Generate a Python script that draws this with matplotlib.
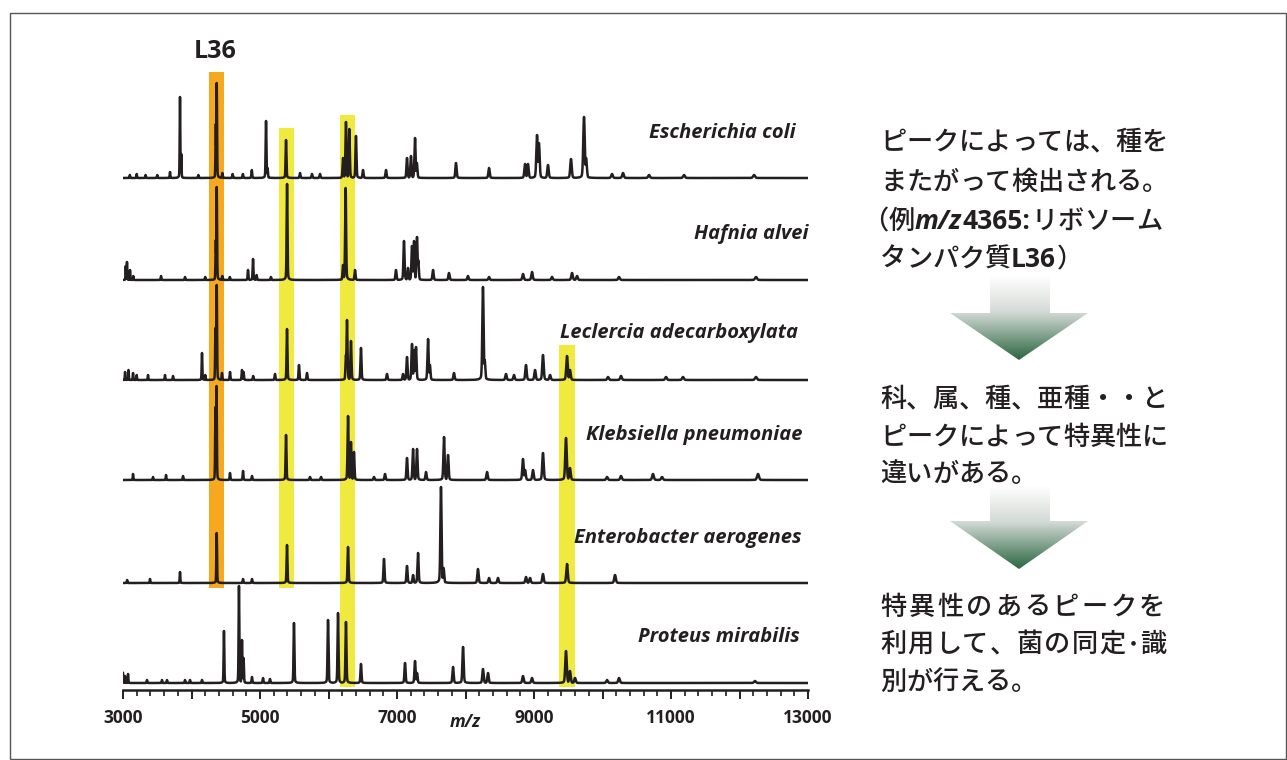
import numpy as np
import matplotlib
matplotlib.use('Agg')
import matplotlib.pyplot as plt
from matplotlib.patches import Polygon, Rectangle
from matplotlib.colors import LinearSegmentedColormap

# peak lists: (m/z, height in px above baseline)
ecoli_peaks = [(3100, 3), (3200, 4), (3330, 3), (3500, 3), (3686, 6), (3832, 81), (3850, 24),
               (4100, 3), (4355, 54), (4368, 95), (4450, 5), (4600, 4), (4750, 4), (4880, 8),
               (5088, 57), (5110, 10), (5380, 38), (5584, 5), (5759, 4), (5876, 4), (6212, 20),
               (6255, 56), (6304, 49), (6401, 42), (6504, 8), (6839, 8), (7146, 20), (7204, 22),
               (7263, 40), (7290, 15), (7861, 15), (8343, 10), (8869, 14), (8912, 14), (9044, 43),
               (9072, 35), (9204, 13), (9540, 19), (9730, 61), (9760, 20), (10139, 4), (10299, 5),
               (10679, 3), (11190, 3), (12212, 3)]
hafnia_peaks = [(3040, 14), (3058, 18), (3102, 10), (3150, 4), (3555, 4), (3905, 3), (4200, 3),
                (4355, 40), (4368, 93), (4450, 4), (4560, 3), (4825, 10), (4898, 21), (4950, 5),
                (5160, 3), (5395, 96), (6212, 15), (6250, 92), (6387, 10), (6985, 10), (7102, 39),
                (7160, 12), (7219, 34), (7248, 39), (7292, 43), (7310, 20), (7526, 10), (7759, 7),
                (8036, 4), (8343, 3), (8839, 6), (8971, 8), (9263, 3), (9555, 7), (9628, 4),
                (10241, 3), (12241, 3)]
leclercia_peaks = [(3030, 8), (3080, 10), (3146, 7), (3200, 5), (3365, 5), (3613, 5), (3730, 4),
                   (4153, 27), (4200, 5), (4350, 52), (4368, 95), (4445, 7), (4562, 8), (4737, 10),
                   (4760, 8), (4900, 4), (5219, 6), (5394, 51), (5569, 15), (5686, 7), (6255, 25),
                   (6270, 60), (6328, 39), (6474, 32), (6854, 6), (7088, 6), (7146, 23), (7219, 36),
                   (7250, 30), (7277, 33), (7453, 41), (7480, 15), (7832, 7), (8255, 93), (8280, 20),
                   (8591, 6), (8708, 5), (8883, 15), (9015, 10), (9131, 25), (9234, 5), (9482, 24),
                   (9525, 10), (10080, 3), (10270, 4), (10927, 3), (11175, 3), (12240, 3)]
klebsiella_peaks = [(3146, 6), (3438, 3), (3628, 5), (3876, 4), (4350, 73), (4365, 94), (4562, 7),
                    (4752, 9), (4883, 4), (5380, 45), (5730, 3), (5891, 3), (6285, 64), (6328, 38),
                    (6372, 28), (6664, 3), (6825, 6), (7146, 22), (7234, 31), (7292, 31), (7423, 8),
                    (7686, 43), (7745, 25), (8314, 8), (8839, 21), (8870, 10), (8985, 10), (9131, 27),
                    (9467, 42), (9525, 12), (10066, 3), (10270, 4), (10737, 6), (10869, 3), (12270, 6)]
enterobacter_peaks = [(3060, 3), (3394, 4), (3832, 11), (4368, 50), (4752, 4), (4883, 4), (5394, 38),
                      (6285, 36), (6810, 24), (7146, 17), (7234, 8), (7307, 30), (7642, 96), (7680, 15),
                      (8182, 14), (8343, 5), (8474, 5), (8883, 6), (8942, 5), (9131, 9), (9482, 19),
                      (10183, 8)]
proteus_peaks = [(3000, 10), (3029, 7), (3073, 9), (3350, 3), (3569, 3), (3642, 3), (3905, 3),
                 (3978, 3), (4153, 3), (4474, 52), (4693, 97), (4737, 43), (4760, 25), (4883, 6),
                 (5044, 5), (5146, 4), (5496, 60), (5993, 63), (6139, 70), (6255, 61), (6474, 19),
                 (7117, 20), (7263, 22), (7292, 10), (7818, 16), (7964, 36), (8255, 14), (8328, 10),
                 (8839, 7), (8971, 5), (9467, 32), (9525, 12), (9599, 5), (10066, 3), (10241, 5),
                 (12226, 2)]

species = ['Escherichia coli', 'Hafnia alvei', 'Leclercia adecarboxylata',
           'Klebsiella pneumoniae', 'Enterobacter aerogenes', 'Proteus mirabilis']
all_peaks = [ecoli_peaks, hafnia_peaks, leclercia_peaks, klebsiella_peaks,
             enterobacter_peaks, proteus_peaks]

# highlighted peaks (m/z) and colours
band_mz = [4365, 5387, 6277, 9482]
band_colors = ['#f6a91e', '#f0e93e', '#f0e93e', '#f0e93e']

tick_values = list(range(3000, 13001, 1000))
tick_labels = ['3000', '', '5000', '', '7000', '', '9000', '', '11000', '', '13000']

# layout (pixels)
W, H = 1287, 760
offsets = [512, 410, 310, 210, 107, 7]          # baseline of each trace (data = px above axis)
band_spans = [(102, 618), (102, 562), (3, 575), (3, 345)]
label_right = [796, 808, 798, 803, 801, 800]
label_y = [133, 234, 333, 435, 538, 637]
ink = '#231f20'
LAT = ['Open Sans', 'DejaVu Sans']
JP = ['Noto Sans CJK JP', 'DejaVu Sans']

fig = plt.figure(figsize=(W / 100, H / 100), dpi=100)
ax = fig.add_axes([123 / W, (H - 690) / H, 685 / W, 650 / H])
ov = fig.add_axes([0, 0, 1, 1], zorder=3)
ov.patch.set_alpha(0)

mz = np.arange(3000, 13001, 1.0)


def profile(peaks):
    y = np.zeros_like(mz)
    for c, h in peaks:
        s = c * 0.0011
        g = c * 0.0025
        shape = 0.9 * np.exp(-0.5 * ((mz - c) / s) ** 2) + 0.1 / (1 + ((mz - c) / g) ** 2)
        y = np.maximum(y, h * shape)
    return y


for c, col, (y0, y1) in zip(band_mz, band_colors, band_spans):
    ax.add_patch(Rectangle((c - 112, y0), 224, y1 - y0, color=col, lw=0, zorder=1))

for peaks, off in zip(all_peaks, offsets):
    ax.plot(mz, off + profile(peaks), color=ink, lw=1.8, zorder=2, solid_joinstyle='round')

ax.set_xlim(3000, 13000)
ax.set_ylim(0, 650)
for s in ['top', 'left', 'right']:
    ax.spines[s].set_visible(False)
ax.spines['bottom'].set_linewidth(1.8)
ax.spines['bottom'].set_color(ink)
ax.patch.set_visible(False)
ax.set_yticks([])
ax.set_xticks(tick_values)
ax.set_xticklabels(tick_labels, fontfamily=LAT, fontweight='bold', fontsize=12.5, color=ink)
ax.set_xticks(np.arange(3000, 13001, 200), minor=True)
ax.tick_params(which='major', length=6.5, width=1.4, color=ink, pad=7)
ax.tick_params(which='minor', length=4.3, width=1.2, color=ink)

# overlay in pixel coordinates
ov.set_xlim(0, W)
ov.set_ylim(H, 0)
ov.axis('off')

ov.add_patch(Rectangle((10, 13), W - 11.5, H - 14.5, fill=False, ec='#555555', lw=1.0))

ov.text(215, 52, 'L36', family=LAT, weight='bold', size=18, ha='center', va='center', color=ink)
ov.text(465, 722, 'm/z', family=LAT, weight='bold', style='italic', size=12.5,
        ha='center', va='center', color=ink)
for name, xr, yc in zip(species, label_right, label_y):
    ov.text(xr, yc, name, family=LAT, weight='bold', style='italic', size=14.5,
            ha='right', va='center', color=ink)

renderer = fig.canvas.get_renderer()
EM = 26.2
JP_SIZE = EM * 72 / 100


def line(x, y, runs, pitch=EM):
    for txt, kind in runs:
        if kind == 'jp':
            for ch in txt:
                ov.text(x, y, ch, family=JP, size=JP_SIZE, weight='medium',
                        ha='left', va='baseline', color=ink)
                x += pitch * (0.5 if ch == '･' else 1.0)
        else:
            t = ov.text(x, y, txt, family=LAT, weight='bold', size=19,
                        style='italic' if kind == 'it' else 'normal',
                        ha='left', va='baseline', color=ink)
            x += t.get_window_extent(renderer).width + 1


line(880, 150, [('ピークによっては、種を', 'jp')])
line(880, 190, [('またがって検出される。', 'jp')])
line(862, 229, [('（例', 'jp'), ('m/z', 'it'), ('4365:', 'b'), ('リボソーム', 'jp')])
line(880, 267, [('タンパク質', 'jp'), ('L36', 'b'), ('）', 'jp')])
line(880, 407, [('科、属、種、亜種・・と', 'jp')])
line(880, 445, [('ピークによって特異性に', 'jp')])
line(880, 482, [('違いがある。', 'jp')])
line(880, 615, [('特異性のあるピークを', 'jp')], pitch=28.8)
line(880, 652, [('利用して、菌の同定･識', 'jp')], pitch=27.4)
line(880, 690, [('別が行える。', 'jp')])

# gradient arrows
cmap = LinearSegmentedColormap.from_list('arr', [(0, '#ffffff'), (0.43, '#d3dad5'), (1, '#2b6640')])
grad = np.linspace(0, 1, 200).reshape(-1, 1)
for top, base, tip in [(276, 313, 360), (486, 521, 569)]:
    poly = Polygon([(990, top), (1050, top), (1050, base), (1088, base), (1019, tip),
                    (950, base), (990, base)], closed=True, fc='none', ec='none')
    ov.add_patch(poly)
    im = ov.imshow(grad, cmap=cmap, extent=(950, 1088, tip, top), origin='upper',
                   aspect='auto', interpolation='bilinear')
    im.set_clip_path(poly)

ov.set_xlim(0, W)
ov.set_ylim(H, 0)

fig.savefig('out.png', dpi=100)
